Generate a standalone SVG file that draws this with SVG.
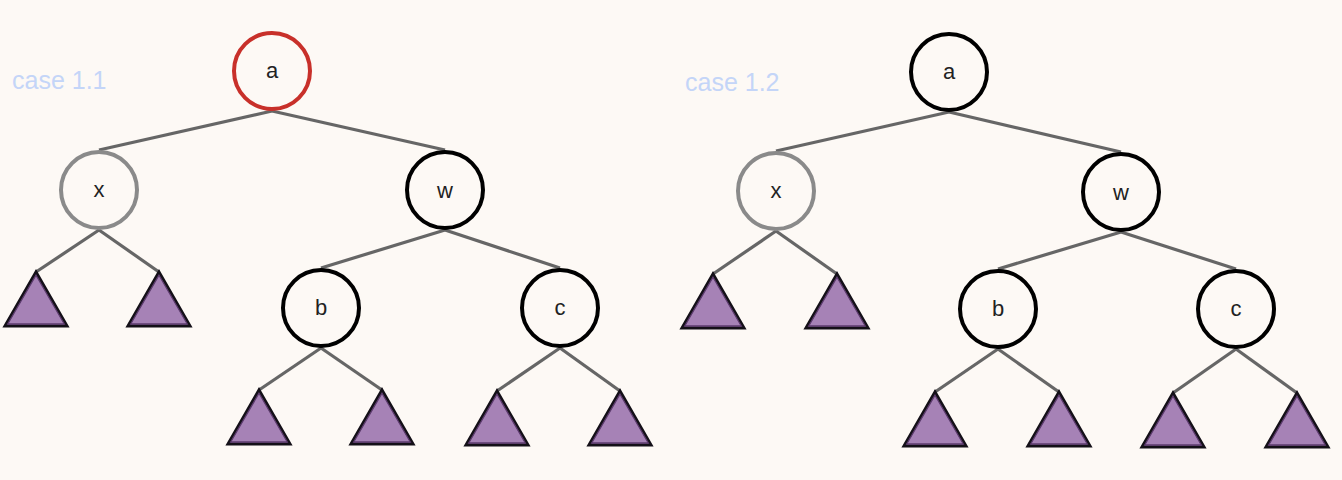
<svg xmlns="http://www.w3.org/2000/svg" xmlns:xlink="http://www.w3.org/1999/xlink" width="1342" height="480" viewBox="0 0 1342 480">
<style>
.bg{fill:#fdf9f5}
.node{fill:#fdf9f5;stroke:#000;stroke-width:4}
.red{stroke:#c8302a}
.gray{stroke:#8a8a8a}
.lbl{font-family:"Liberation Sans",Arial,sans-serif;font-size:22px;fill:#222;text-anchor:middle;dominant-baseline:central}
.case{font-family:"Liberation Sans",Arial,sans-serif;font-size:25px;fill:#c4d5f8}
.edge{stroke:#666;stroke-width:3.2;fill:none}
.tri{fill:#a682b6;stroke:#141018;stroke-width:3;stroke-linejoin:miter}
.tri-in{fill:none;stroke:#5c3b6d;stroke-width:1.3}
</style>
<defs>
<g id="tri">
<path class="tri" d="M0,0 L-31,54 L31,54 Z"/>
<path class="tri-in" d="M0,3.2 L-28.3,52 L28.3,52 Z"/>
</g>
</defs>
<rect class="bg" x="0" y="0" width="1342" height="480"/>
<text class="case" x="12" y="89">case 1.1</text>
<text class="case" x="685" y="91">case 1.2</text>
<g id="connectors">
<line class="edge" x1="272" y1="111" x2="99" y2="150"/>
<line class="edge" x1="272" y1="111" x2="445" y2="150"/>
<line class="edge" x1="99" y1="230" x2="36" y2="272"/>
<line class="edge" x1="99" y1="230" x2="159" y2="272"/>
<line class="edge" x1="445" y1="230" x2="321" y2="268"/>
<line class="edge" x1="445" y1="230" x2="560" y2="268"/>
<line class="edge" x1="321" y1="348" x2="259" y2="390"/>
<line class="edge" x1="321" y1="348" x2="382" y2="390"/>
<line class="edge" x1="560" y1="348" x2="497" y2="391"/>
<line class="edge" x1="560" y1="348" x2="620" y2="391"/>
<line class="edge" x1="949" y1="112" x2="776" y2="151"/>
<line class="edge" x1="949" y1="112" x2="1121" y2="152"/>
<line class="edge" x1="776" y1="231" x2="713" y2="274"/>
<line class="edge" x1="776" y1="231" x2="837" y2="274"/>
<line class="edge" x1="1121" y1="232" x2="998" y2="269"/>
<line class="edge" x1="1121" y1="232" x2="1236" y2="269"/>
<line class="edge" x1="998" y1="349" x2="935" y2="392"/>
<line class="edge" x1="998" y1="349" x2="1059" y2="392"/>
<line class="edge" x1="1236" y1="349" x2="1173" y2="393"/>
<line class="edge" x1="1236" y1="349" x2="1297" y2="393"/>
</g>
<g id="L-a"><circle class="node red" cx="272" cy="71" r="38"/><text class="lbl" x="272" y="70">a</text></g>
<g id="L-x"><circle class="node gray" cx="99" cy="190" r="38"/><text class="lbl" x="99" y="189">x</text></g>
<g id="L-w"><circle class="node" cx="445" cy="190" r="38"/><text class="lbl" x="445" y="190">w</text></g>
<g id="L-b"><circle class="node" cx="321" cy="308" r="38"/><text class="lbl" x="321" y="307">b</text></g>
<g id="L-c"><circle class="node" cx="560" cy="308" r="38"/><text class="lbl" x="560" y="307">c</text></g>
<g id="L-t1"><use xlink:href="#tri" href="#tri" x="36" y="272"/></g>
<g id="L-t2"><use xlink:href="#tri" href="#tri" x="159" y="272"/></g>
<g id="L-t3"><use xlink:href="#tri" href="#tri" x="259" y="390"/></g>
<g id="L-t4"><use xlink:href="#tri" href="#tri" x="382" y="390"/></g>
<g id="L-t5"><use xlink:href="#tri" href="#tri" x="497" y="391"/></g>
<g id="L-t6"><use xlink:href="#tri" href="#tri" x="620" y="391"/></g>
<g id="R-a"><circle class="node" cx="949" cy="72" r="38"/><text class="lbl" x="949" y="71">a</text></g>
<g id="R-x"><circle class="node gray" cx="776" cy="191" r="38"/><text class="lbl" x="776" y="190">x</text></g>
<g id="R-w"><circle class="node" cx="1121" cy="192" r="38"/><text class="lbl" x="1121" y="192">w</text></g>
<g id="R-b"><circle class="node" cx="998" cy="309" r="38"/><text class="lbl" x="998" y="308">b</text></g>
<g id="R-c"><circle class="node" cx="1236" cy="309" r="38"/><text class="lbl" x="1236" y="308">c</text></g>
<g id="R-t1"><use xlink:href="#tri" href="#tri" x="713" y="274"/></g>
<g id="R-t2"><use xlink:href="#tri" href="#tri" x="837" y="274"/></g>
<g id="R-t3"><use xlink:href="#tri" href="#tri" x="935" y="392"/></g>
<g id="R-t4"><use xlink:href="#tri" href="#tri" x="1059" y="392"/></g>
<g id="R-t5"><use xlink:href="#tri" href="#tri" x="1173" y="393"/></g>
<g id="R-t6"><use xlink:href="#tri" href="#tri" x="1297" y="393"/></g>
</svg>
